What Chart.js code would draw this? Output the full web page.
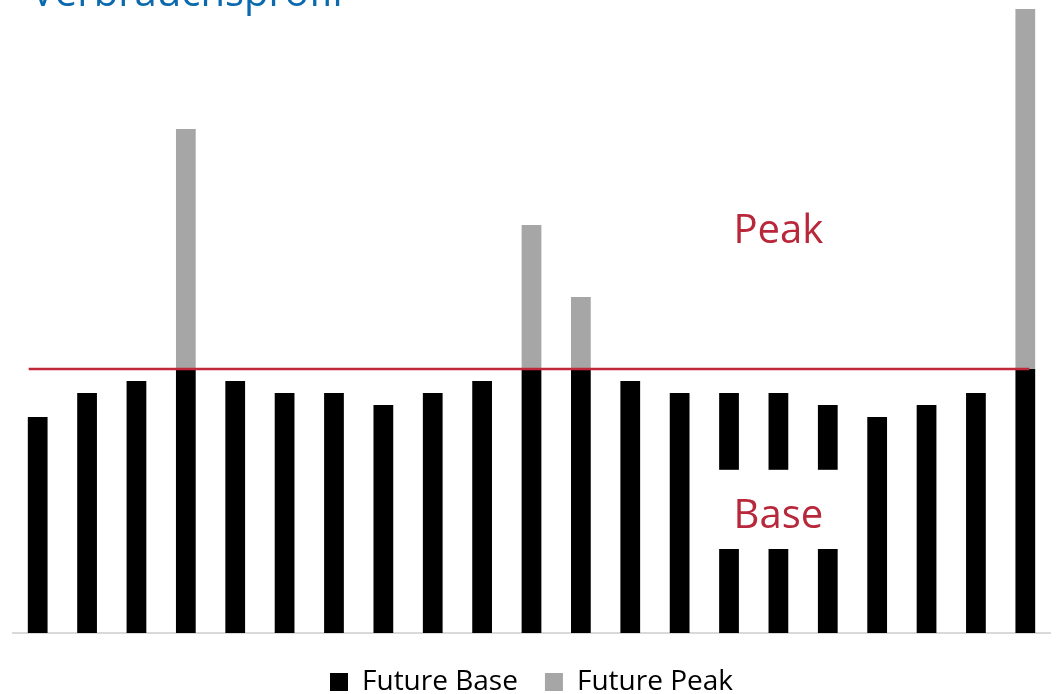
<!DOCTYPE html>
<html lang="de">
<head>
    <meta charset="UTF-8">
    <title>Verbrauchsprofil</title>
    <script src="https://cdn.jsdelivr.net/npm/chart.js"></script>
    <style>
        body {
            margin: 0;
            padding: 0;
            background: #ffffff;
        }
        #wrap {
            width: 1056px;
            height: 694px;
        }
    </style>
</head>
<body>
    <div id="wrap">
        <canvas id="profile"></canvas>
    </div>

    <script>
        // 21 Zeitabschnitte
        const periods = ['1', '2', '3', '4', '5', '6', '7', '8', '9', '10', '11',
                         '12', '13', '14', '15', '16', '17', '18', '19', '20', '21'];
        const baseValues = [18, 20, 21, 22, 21, 20, 20, 19, 20, 21, 22,
                            22, 21, 20, 20, 20, 19, 18, 19, 20, 22];
        const peakValues = [0, 0, 0, 20, 0, 0, 0, 0, 0, 0, 12,
                            6, 0, 0, 0, 0, 0, 0, 0, 0, 30];
        const peakThreshold = 22;
        const yMax = 52;

        const red = '#b8273a';

        // title, Peak/Base labels and the threshold line
        const annotations = {
            id: 'annotations',
            afterDatasetsDraw(chart) {
                const { ctx, scales } = chart;
                const x = scales.x, y = scales.y;
                ctx.save();

                // white box behind the "Base" label
                const bx0 = x.getPixelForValue(14) - 20;
                const bx1 = x.getPixelForValue(16) + 20;
                const by0 = y.getPixelForValue(13.6);
                const by1 = y.getPixelForValue(7);
                ctx.fillStyle = '#ffffff';
                ctx.fillRect(bx0, by0, bx1 - bx0, by1 - by0);

                // threshold line
                const ly = y.getPixelForValue(peakThreshold);
                ctx.strokeStyle = '#c0283a';
                ctx.lineWidth = 2.5;
                ctx.beginPath();
                ctx.moveTo(x.getPixelForValue(0) - 9, ly);
                ctx.lineTo(x.getPixelForValue(20) + 4, ly);
                ctx.stroke();

                ctx.font = '40px "Open Sans"';
                ctx.textAlign = 'center';
                ctx.textBaseline = 'alphabetic';
                ctx.fillStyle = red;
                const cx = x.getPixelForValue(15);
                ctx.fillText('Peak', cx, 243);
                ctx.fillText('Base', cx, 528);

                ctx.textAlign = 'left';
                ctx.fillStyle = '#0b6aad';
                ctx.fillText('Verbrauchsprofil', 31, 6);
                ctx.restore();
            }
        };

        new Chart(document.getElementById('profile'), {
            type: 'bar',
            data: {
                labels: periods,
                datasets: [
                    {
                        label: 'Future Base',
                        data: baseValues,
                        backgroundColor: '#000000'
                    },
                    {
                        label: 'Future Peak',
                        data: peakValues,
                        backgroundColor: '#a6a6a6'
                    }
                ]
            },
            options: {
                responsive: true,
                maintainAspectRatio: false,
                animation: false,
                layout: {
                    padding: { left: 13, right: 6, top: 9, bottom: -12 }
                },
                datasets: {
                    bar: {
                        categoryPercentage: 1,
                        barPercentage: 0.4
                    }
                },
                plugins: {
                    legend: {
                        position: 'bottom',
                        labels: {
                            font: { family: 'Open Sans', size: 28 },
                            color: '#000000',
                            boxWidth: 18,
                            boxHeight: 18,
                            padding: 27
                        }
                    },
                    tooltip: { enabled: false }
                },
                scales: {
                    x: {
                        stacked: true,
                        grid: { display: false },
                        ticks: { display: false },
                        border: { color: '#d9d9d9', width: 2 }
                    },
                    y: {
                        stacked: true,
                        display: false,
                        min: 0,
                        max: yMax
                    }
                }
            },
            plugins: [annotations]
        });
    </script>
</body>
</html>
